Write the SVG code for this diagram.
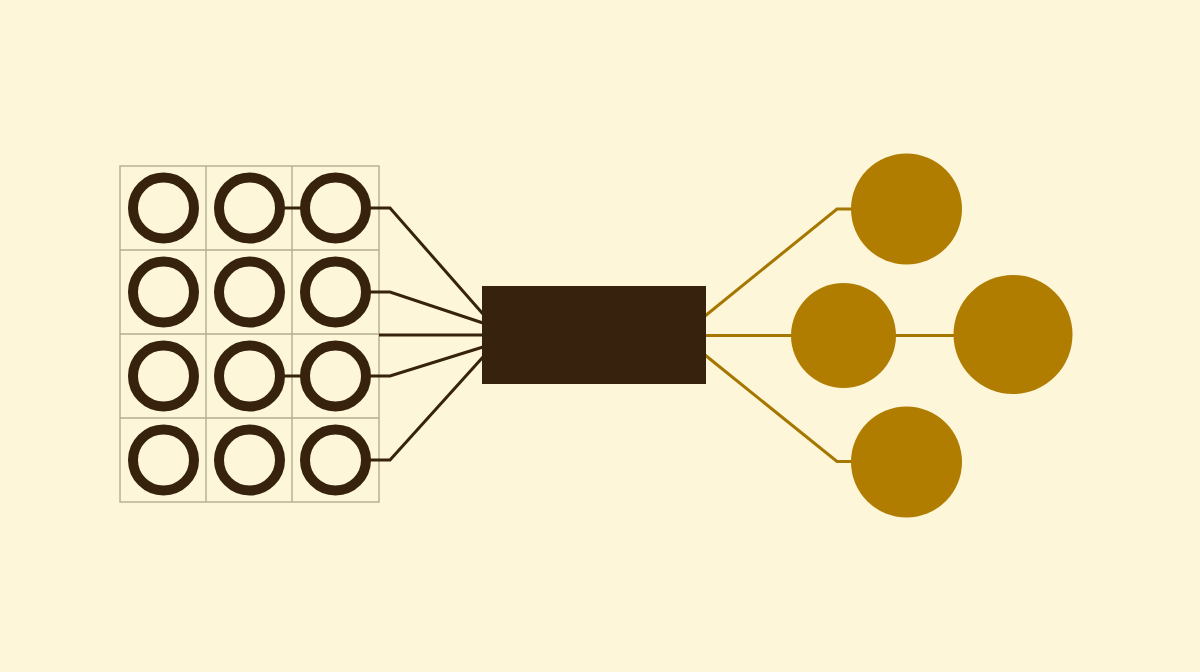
<svg xmlns="http://www.w3.org/2000/svg" width="1200" height="672" viewBox="0 0 1200 672">
<style>
.grid{fill:none;stroke:#b3ae92;stroke-width:1.4}
.ring{fill:none;stroke:#37230d;stroke-width:10}
.dk{fill:none;stroke:#37230d;stroke-width:3;stroke-linejoin:miter}
.gd{fill:none;stroke:#a57700;stroke-width:3}
.gold{fill:#b07d00}
</style>
<rect x="0" y="0" width="1200" height="672" fill="#fdf6d8"/>
<g id="grid">
<rect class="grid" x="120" y="166" width="259" height="336"/>
<line class="grid" x1="206" y1="166" x2="206" y2="502"/>
<line class="grid" x1="292" y1="166" x2="292" y2="502"/>
<line class="grid" x1="120" y1="250" x2="379" y2="250"/>
<line class="grid" x1="120" y1="334" x2="379" y2="334"/>
<line class="grid" x1="120" y1="418" x2="379" y2="418"/>
</g>
<g id="connectors">
<line class="dk" x1="279" y1="208" x2="306" y2="208"/>
<line class="dk" x1="279" y1="376" x2="306" y2="376"/>
<polyline class="dk" points="366,208 390,208 483,314"/>
<polyline class="dk" points="366,292 390,292 483,323"/>
<line class="dk" x1="379" y1="335" x2="483" y2="335"/>
<polyline class="dk" points="366,376 390,376 483,347"/>
<polyline class="dk" points="366,460 390,460 483,357"/>
<polyline class="gd" points="705,316 837,209 855,209"/>
<line class="gd" x1="705" y1="335.5" x2="795" y2="335.5"/>
<line class="gd" x1="892" y1="335.5" x2="957" y2="335.5"/>
<polyline class="gd" points="705,355 837,461.5 855,461.5"/>
</g>
<g id="n-r1c1"><circle class="ring" cx="163.5" cy="208" r="30.5"/></g>
<g id="n-r1c2"><circle class="ring" cx="249.5" cy="208" r="30.5"/></g>
<g id="n-r1c3"><circle class="ring" cx="335.5" cy="208" r="30.5"/></g>
<g id="n-r2c1"><circle class="ring" cx="163.5" cy="292" r="30.5"/></g>
<g id="n-r2c2"><circle class="ring" cx="249.5" cy="292" r="30.5"/></g>
<g id="n-r2c3"><circle class="ring" cx="335.5" cy="292" r="30.5"/></g>
<g id="n-r3c1"><circle class="ring" cx="163.5" cy="376" r="30.5"/></g>
<g id="n-r3c2"><circle class="ring" cx="249.5" cy="376" r="30.5"/></g>
<g id="n-r3c3"><circle class="ring" cx="335.5" cy="376" r="30.5"/></g>
<g id="n-r4c1"><circle class="ring" cx="163.5" cy="460" r="30.5"/></g>
<g id="n-r4c2"><circle class="ring" cx="249.5" cy="460" r="30.5"/></g>
<g id="n-r4c3"><circle class="ring" cx="335.5" cy="460" r="30.5"/></g>
<g id="hub"><rect x="482" y="286" width="224" height="98" fill="#37230d"/></g>
<g id="out-top"><circle class="gold" cx="906.5" cy="209" r="55.5"/></g>
<g id="out-mid"><circle class="gold" cx="843.5" cy="335.5" r="52.5"/></g>
<g id="out-right"><circle class="gold" cx="1013" cy="334.5" r="59.5"/></g>
<g id="out-bottom"><circle class="gold" cx="906.5" cy="462" r="55.5"/></g>
</svg>
